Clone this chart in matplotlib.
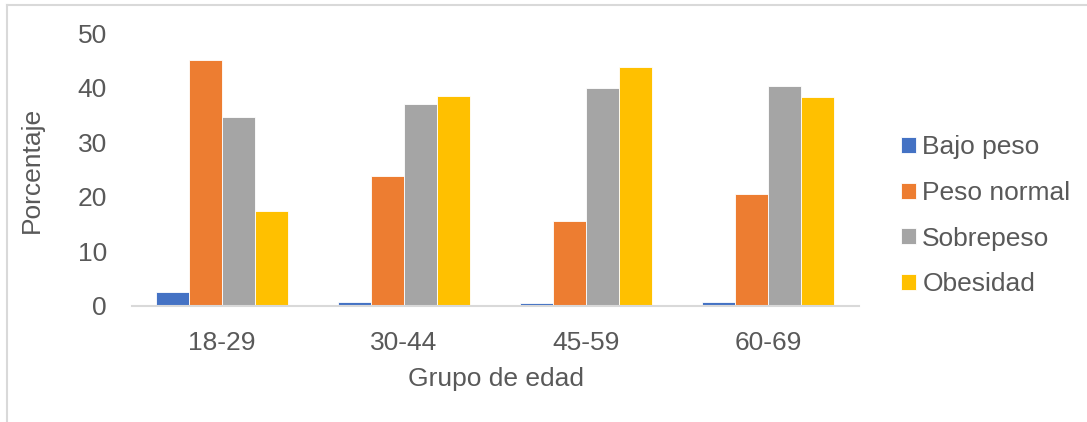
import numpy as np
import matplotlib
matplotlib.use("Agg")
import matplotlib.pyplot as plt
from matplotlib.lines import Line2D

# ---- data ----
grupos = ["18-29", "30-44", "45-59", "60-69"]
series = ["Bajo peso", "Peso normal", "Sobrepeso", "Obesidad"]
bajo_peso = [2.6, 0.6, 0.5, 0.7]
peso_normal = [45.2, 23.9, 15.6, 20.6]
sobrepeso = [34.7, 37.0, 40.0, 40.3]
obesidad = [17.4, 38.6, 43.8, 38.4]
valores = [bajo_peso, peso_normal, sobrepeso, obesidad]

COLORS = ["#4472C4", "#ED7D31", "#A5A5A5", "#FFC000"]
TXT = "#595959"
GRID = "#D9D9D9"
FS = 19

plt.rcParams["font.family"] = ["Liberation Sans", "DejaVu Sans"]

fig = plt.figure(figsize=(10.87, 4.22), dpi=100)
ax = fig.add_axes([132 / 1087, 1 - 305.7 / 422, (859 - 132) / 1087, (305.7 - 33.5) / 422])

x = np.arange(len(grupos))
w = 0.182
for i, (nombre, vals) in enumerate(zip(series, valores)):
    ax.bar(x + (i - 1.5) * w, vals, width=w, color=COLORS[i], label=nombre,
           edgecolor="white", linewidth=0.6, zorder=2)

ax.set_xlim(-0.495, 3.5)
ax.set_ylim(0, 50)
ax.set_yticks(range(0, 51, 10))
ax.set_xticks(x)
ax.set_xticklabels(grupos)
ax.tick_params(axis="both", length=0, labelsize=FS, labelcolor=TXT)
ax.tick_params(axis="y", pad=18)
ax.tick_params(axis="x", pad=18)
for s in ["top", "right", "left"]:
    ax.spines[s].set_visible(False)
ax.spines["bottom"].set_color(GRID)
ax.spines["bottom"].set_linewidth(1.5)

ax.set_xlabel("Grupo de edad", fontsize=FS, color=TXT, labelpad=9)
ax.set_ylabel("Porcentaje", fontsize=FS, color=TXT)
ax.yaxis.set_label_coords(-0.121, 0.5)

leg = ax.legend(loc="center left", bbox_to_anchor=(1.0, 0.33), frameon=False,
                fontsize=FS, handlelength=0.55, handleheight=0.55,
                handletextpad=0.25, labelspacing=0.82, borderaxespad=1.2)
for t in leg.get_texts():
    t.set_color(TXT)

# chart frame (left and top edges only visible)
fig.add_artist(Line2D([7 / 1087, 7 / 1087], [0, 1 - 4.5 / 422], transform=fig.transFigure,
                      color=GRID, linewidth=1.5))
fig.add_artist(Line2D([7 / 1087, 1], [1 - 4.5 / 422, 1 - 4.5 / 422], transform=fig.transFigure,
                      color=GRID, linewidth=1.5))

fig.savefig("out.png", dpi=100)
